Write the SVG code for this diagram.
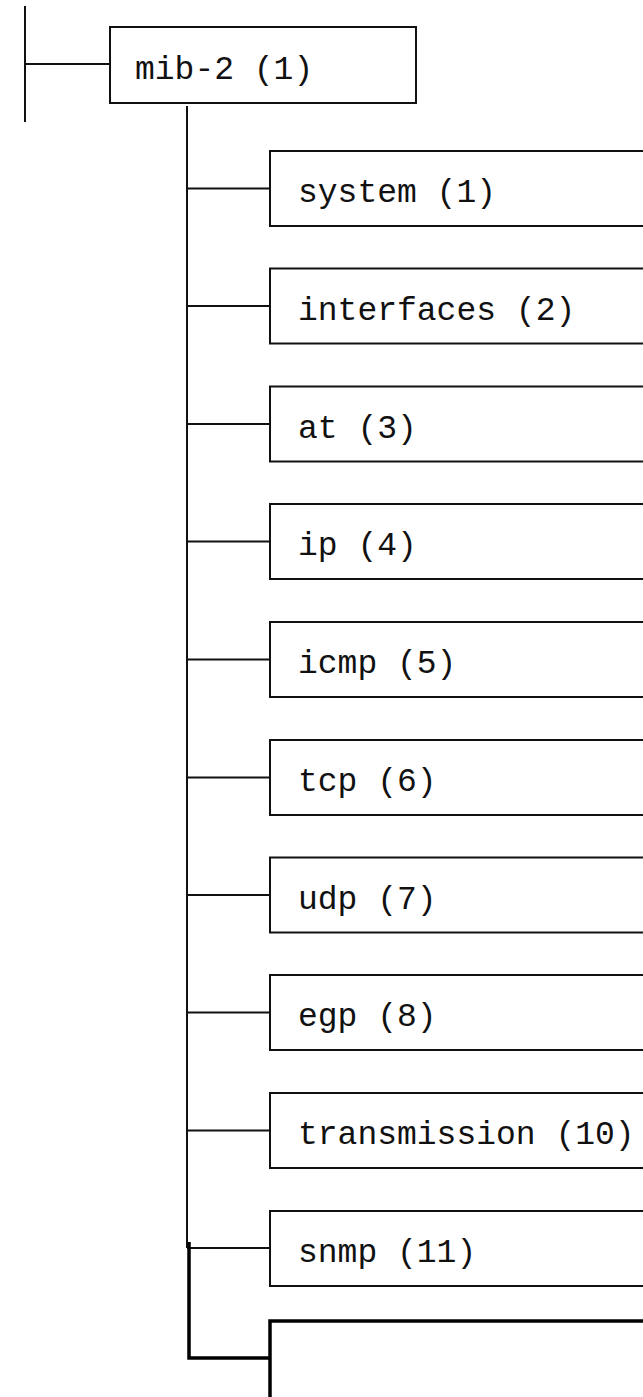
<svg xmlns="http://www.w3.org/2000/svg" width="643" height="1397" viewBox="0 0 643 1397">
<style>
  .box{fill:#fff;stroke:#111;stroke-width:2}
  .thick{fill:#fff;stroke:#000;stroke-width:3.5}
  .ln{fill:none;stroke:#111;stroke-width:2}
  .tln{fill:none;stroke:#000;stroke-width:3.5}
  text{font-family:"Liberation Mono","DejaVu Sans Mono",monospace;font-size:33px;fill:#111}
</style>
<rect width="643" height="1397" fill="#fff"/>
<g id="connectors">
  <line class="ln" x1="25" y1="6" x2="25" y2="122"/>
  <line class="ln" x1="25" y1="64" x2="110" y2="64"/>
  <line class="ln" x1="187" y1="106" x2="187" y2="1248"/>
  <line class="ln" x1="187" y1="188.5" x2="270" y2="188.5"/>
  <line class="ln" x1="187" y1="306" x2="270" y2="306"/>
  <line class="ln" x1="187" y1="424" x2="270" y2="424"/>
  <line class="ln" x1="187" y1="541.5" x2="270" y2="541.5"/>
  <line class="ln" x1="187" y1="659.5" x2="270" y2="659.5"/>
  <line class="ln" x1="187" y1="777.5" x2="270" y2="777.5"/>
  <line class="ln" x1="187" y1="895" x2="270" y2="895"/>
  <line class="ln" x1="187" y1="1012.5" x2="270" y2="1012.5"/>
  <line class="ln" x1="187" y1="1130.5" x2="270" y2="1130.5"/>
  <line class="ln" x1="187" y1="1248" x2="270" y2="1248"/>
  <polyline class="tln" points="189,1242 189,1358 270,1358"/>
</g>
<g id="mib-2">
  <rect class="box" x="110" y="27" width="306" height="76"/>
  <text x="135" y="79">mib-2 (1)</text>
</g>
<g id="system">
  <rect class="box" x="270" y="151" width="400" height="75"/>
  <text x="298" y="202">system (1)</text>
</g>
<g id="interfaces">
  <rect class="box" x="270" y="268.5" width="400" height="75"/>
  <text x="298" y="319.5">interfaces (2)</text>
</g>
<g id="at">
  <rect class="box" x="270" y="386.5" width="400" height="75"/>
  <text x="298" y="437.5">at (3)</text>
</g>
<g id="ip">
  <rect class="box" x="270" y="504" width="400" height="75"/>
  <text x="298" y="555">ip (4)</text>
</g>
<g id="icmp">
  <rect class="box" x="270" y="622" width="400" height="75"/>
  <text x="298" y="673">icmp (5)</text>
</g>
<g id="tcp">
  <rect class="box" x="270" y="740" width="400" height="75"/>
  <text x="298" y="791">tcp (6)</text>
</g>
<g id="udp">
  <rect class="box" x="270" y="857.5" width="400" height="75"/>
  <text x="298" y="908.5">udp (7)</text>
</g>
<g id="egp">
  <rect class="box" x="270" y="975" width="400" height="75"/>
  <text x="298" y="1026">egp (8)</text>
</g>
<g id="transmission">
  <rect class="box" x="270" y="1093" width="400" height="75"/>
  <text x="298" y="1144">transmission (10)</text>
</g>
<g id="snmp">
  <rect class="box" x="270" y="1211" width="400" height="75"/>
  <text x="298" y="1262">snmp (11)</text>
</g>
<g id="next">
  <rect class="thick" x="270" y="1321" width="400" height="120"/>
</g>
</svg>
